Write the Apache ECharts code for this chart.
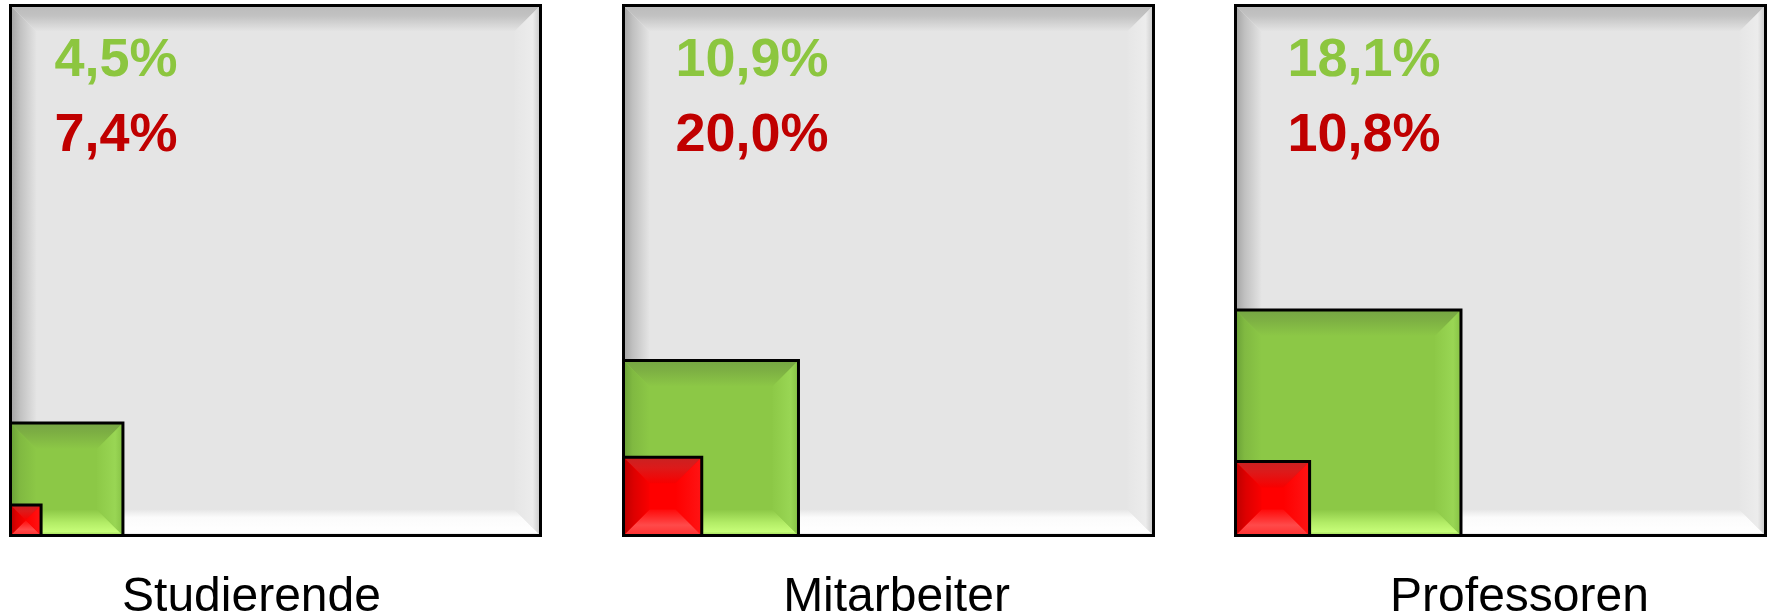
<!DOCTYPE html>
<html>
<head>
<meta charset="utf-8">
<script src="https://cdn.jsdelivr.net/npm/echarts@6/dist/echarts.min.js"></script>
<style>
  html, body { margin: 0; background: #fff; }
  #chart { width: 1769px; height: 616px; }
</style>
</head>
<body>
<div id="chart"></div>
<script>
const groups = ['Studierende', 'Mitarbeiter', 'Professoren']
const greenShare = [4.5, 10.9, 18.1] // % of the whole group
const redShare = [7.4, 20.0, 10.8] // % of the green part

// layout
const panelLeft = [10.5, 623.5, 1235.5]
const panelTop = 5.5
const panelSize = 530
const textLeft = [44, 52, 52]
const nameShift = [-24, 8, 19]
const BEVEL = 26

const fmt = (v) => v.toFixed(1).replace('.', ',') + '%'
const grad = (x0, y0, x1, y1, stops) =>
  new echarts.graphic.LinearGradient(x0, y0, x1, y1, stops.map(([offset, color]) => ({ offset, color })))

const looks = {
  panel: {
    face: '#e5e5e5',
    top: [[0, '#d4d4d4'], [0.08, '#bcbcbc'], [0.4, '#c2c2c2'], [1, '#e5e5e5']],
    left: [[0, '#d8d8d8'], [0.08, '#a9a9a9'], [0.35, '#c0c0c0'], [1, '#e4e4e4']],
    right: [[0, '#8a8a8a'], [0.06, '#cfcfcf'], [0.3, '#ececec'], [1, '#e6e6e6']],
    bottom: [[0, '#6e6e6e'], [0.06, '#e8e8e8'], [0.12, '#ffffff'], [0.7, '#fbfbfb'], [1, '#e6e6e6']],
  },
  green: {
    face: '#8cc846',
    top: [[0, '#76a544'], [0.35, '#7cae43'], [1, '#8cc846']],
    left: [[0, '#69a036'], [0.35, '#80b941'], [1, '#8cc846']],
    right: [[0, '#86c245'], [0.3, '#99d654'], [1, '#8dc947']],
    bottom: [[0, '#9ad455'], [0.15, '#c6fd78'], [0.5, '#b2ec66'], [1, '#8cc846']],
  },
  red: {
    face: '#ff0000',
    top: [[0, '#c82222'], [0.4, '#dc1a1a'], [1, '#f80000']],
    left: [[0, '#bb0000'], [0.4, '#dd0000'], [1, '#fa0000']],
    right: [[0, '#ff1414'], [1, '#ff0000']],
    bottom: [[0, '#ff3030'], [0.4, '#ff4a4a'], [1, '#ff0a0a']],
  },
}

// a box with four slanted edges, like the bevel effect in office charts
function bevelBox(x0, y0, x1, y1, look) {
  const d = Math.min(BEVEL, (x1 - x0) / 2, (y1 - y0) / 2)
  const poly = (points, fill) => ({ type: 'polygon', shape: { points }, style: { fill } })
  return [
    { type: 'rect', shape: { x: x0, y: y0, width: x1 - x0, height: y1 - y0 }, style: { fill: look.face } },
    poly([[x0, y0], [x1, y0], [x1 - d, y0 + d], [x0 + d, y0 + d]], grad(0, 0, 0, 1, look.top)),
    poly([[x0, y1], [x1, y1], [x1 - d, y1 - d], [x0 + d, y1 - d]], grad(0, 1, 0, 0, look.bottom)),
    poly([[x0, y0], [x0 + d, y0 + d], [x0 + d, y1 - d], [x0, y1]], grad(0, 0, 1, 0, look.left)),
    poly([[x1, y0], [x1 - d, y0 + d], [x1 - d, y1 - d], [x1, y1]], grad(1, 0, 0, 0, look.right)),
    {
      type: 'rect',
      shape: { x: x0, y: y0, width: x1 - x0, height: y1 - y0 },
      style: { fill: 'none', stroke: '#000', lineWidth: 3 },
    },
  ]
}

function corners(api, side) {
  const p0 = api.coord([0, 0])
  const p1 = api.coord([side, side])
  return [p0[0], p1[1], p1[0], p0[1]]
}

const series = []
groups.forEach((g, i) => {
  series.push({
    type: 'custom',
    xAxisIndex: i,
    yAxisIndex: i,
    silent: true,
    data: [[1]],
    renderItem: (params, api) => {
      const [x0, y0, x1, y1] = corners(api, api.value(0))
      const text = (str, y, fill) => ({
        type: 'text',
        style: {
          text: str,
          x: x0 + textLeft[i],
          y: y0 + y,
          fill,
          font: 'bold 54px "Liberation Sans", Arial, sans-serif',
          align: 'left',
          verticalAlign: 'middle',
        },
      })
      return {
        type: 'group',
        children: bevelBox(x0, y0, x1, y1, looks.panel).concat([
          text(fmt(greenShare[i]), 56, '#8cc63f'),
          text(fmt(redShare[i]), 131, '#c00000'),
        ]),
      }
    },
  })
  series.push({
    type: 'custom',
    xAxisIndex: i,
    yAxisIndex: i,
    silent: true,
    // side of a square = sqrt of its share of the panel area
    data: [
      [Math.sqrt(greenShare[i] / 100)],
      [Math.sqrt((greenShare[i] / 100) * (redShare[i] / 100))],
    ],
    renderItem: (params, api) => {
      const [x0, y0, x1, y1] = corners(api, api.value(0))
      const kind = params.dataIndex === 0 ? 'green' : 'red'
      return { type: 'group', children: bevelBox(x0, y0, x1, y1, looks[kind]) }
    },
  })
})

const shiftPadding = (s) => (s >= 0 ? [0, 0, 0, 2 * s] : [0, -2 * s, 0, 0])

const option = {
  animation: false,
  backgroundColor: '#fff',
  grid: panelLeft.map((left) => ({
    left,
    top: panelTop,
    width: panelSize,
    height: panelSize,
    containLabel: false,
    outerBoundsMode: 'none',
  })),
  xAxis: groups.map((g, i) => ({
    type: 'value',
    gridIndex: i,
    min: 0,
    max: 1,
    axisLine: { show: false },
    axisTick: { show: false },
    axisLabel: { show: false },
    splitLine: { show: false },
    name: g,
    nameLocation: 'middle',
    nameGap: 38,
    nameTextStyle: {
      color: '#000',
      fontSize: 48,
      fontFamily: '"Liberation Sans", Arial, sans-serif',
      padding: shiftPadding(nameShift[i]),
    },
  })),
  yAxis: groups.map((g, i) => ({
    type: 'value',
    gridIndex: i,
    min: 0,
    max: 1,
    show: false,
  })),
  series,
}

const chart = echarts.init(document.getElementById('chart'))
chart.setOption(option)
</script>
</body>
</html>
